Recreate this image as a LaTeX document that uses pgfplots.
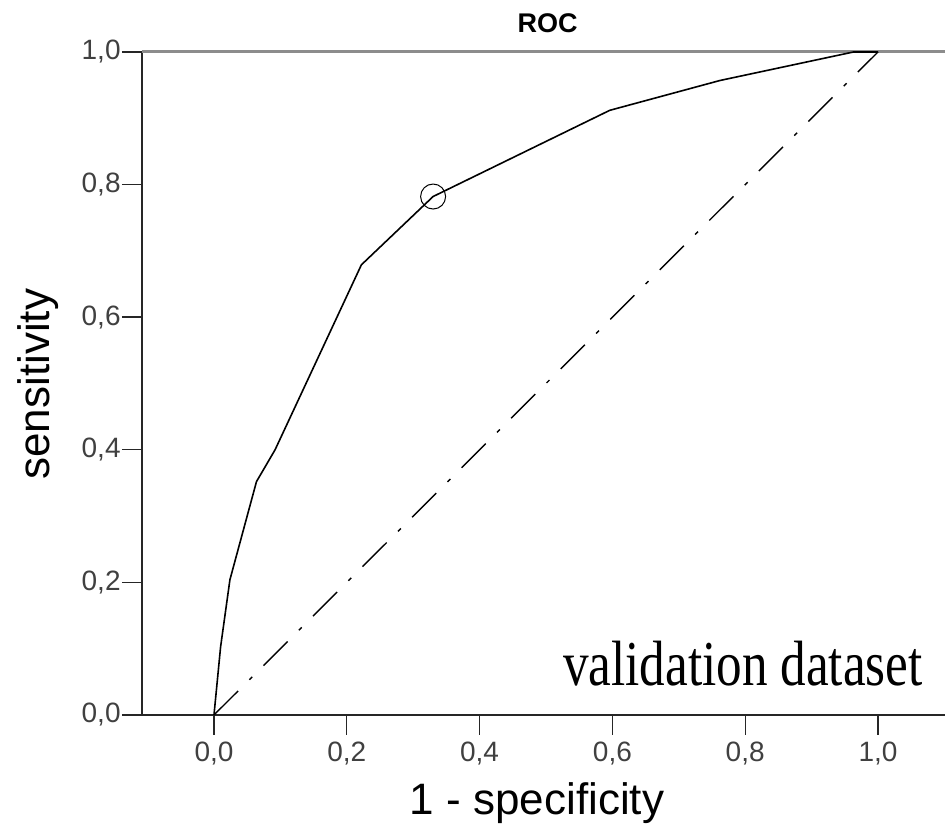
\documentclass[border=0pt]{standalone}
\usepackage{fontspec}
\setmainfont{Liberation Sans}
\newfontfamily\seriffont{Liberation Serif}
\usepackage{graphicx}
\usepackage{pgfplots}
\pgfplotsset{compat=1.18}
\begin{document}
\begin{tikzpicture}
\begin{axis}[
  name=ax,
  scale only axis, width=401.5pt, height=331.5pt,
  xmin=-0.1084, xmax=1.1009, ymin=0, ymax=1,
  axis x line=bottom, axis y line=left,
  axis line style={-, black!85, line width=1pt},
  tick align=outside, major tick length=10pt,
  major tick style={black!85, line width=0.7pt},
  xtick={0,0.2,0.4,0.6,0.8,1.0},
  ytick={0,0.2,0.4,0.6,0.8,1.0},
  /pgf/number format/assume math mode=true,
  /pgf/number format/use comma,
  /pgf/number format/fixed,
  /pgf/number format/fixed zerofill,
  /pgf/number format/precision=1,
  ticklabel style={font=\fontsize{14}{16}\selectfont, text=black!75},
  yticklabel style={inner xsep=0.5pt},
  xlabel={1 - specificity}, ylabel={sensitivity},
  every axis x label/.style={at={(rel axis cs:0.492,-0.1508)}, anchor=base, font=\fontsize{22}{26}\selectfont},
  every axis y label/.style={at={(rel axis cs:-0.1146,0.499)}, rotate=90, anchor=base, font=\fontsize{22}{26}\selectfont},
  title={ROC},
  every axis title/.style={at={(rel axis cs:0.505,1.0287)}, anchor=base, font=\bfseries\fontsize{13.5}{16}\selectfont},
  clip=false,
]
\draw[black!45, line width=1.5pt] (rel axis cs:0,1) -- (rel axis cs:1,1);
\addplot[black, line width=0.8pt] coordinates {
 (0,0) (0.010,0.103) (0.024,0.204) (0.064,0.352) (0.092,0.40)
 (0.222,0.679) (0.33,0.782) (0.596,0.912) (0.762,0.957) (0.963,1.0) (1.0,1.0)};
\addplot[black, line width=0.7pt, dash pattern=on 17pt off 8pt on 2pt off 8pt] coordinates {(0,0) (1,1)};
\addplot[only marks, mark=o, mark size=6.25pt, mark options={line width=0.5pt, black}] coordinates {(0.33,0.782)};
\node[anchor=base east, inner sep=0pt] at (axis cs:1.068,0.045) {\scalebox{0.80}[1]{\seriffont\fontsize{32}{38}\selectfont validation dataset}};
\end{axis}
\pgfresetboundingbox
\useasboundingbox ([xshift=-71pt,yshift=-56pt]ax.south west) rectangle ([yshift=26pt]ax.north east);
\end{tikzpicture}
\end{document}
